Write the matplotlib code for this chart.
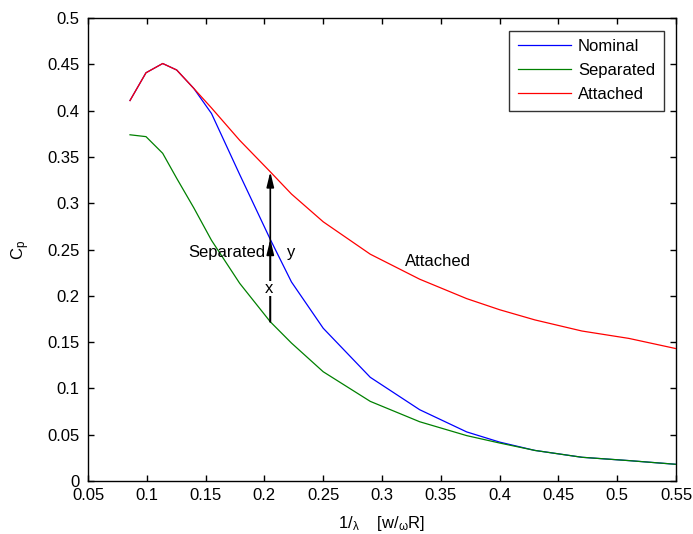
import matplotlib
matplotlib.use("Agg")
import matplotlib.pyplot as plt

plt.rcParams['font.family'] = ['Liberation Sans', 'DejaVu Sans']
plt.rcParams['mathtext.fontset'] = 'custom'
plt.rcParams['mathtext.rm'] = 'Liberation Sans'
plt.rcParams['mathtext.it'] = 'Liberation Sans'

inv_lambda = [0.0857, 0.0993, 0.1135, 0.1254, 0.140, 0.155, 0.179, 0.205, 0.223,
              0.25, 0.29, 0.332, 0.372, 0.40, 0.43, 0.47, 0.51, 0.55]
cp_nominal = [0.411, 0.441, 0.451, 0.444, 0.424, 0.397, 0.331, 0.261, 0.215,
              0.165, 0.112, 0.077, 0.053, 0.042, 0.033, 0.0256, 0.022, 0.018]
cp_separated = [0.374, 0.372, 0.354, 0.327, 0.295, 0.260, 0.2135, 0.172, 0.149,
                0.118, 0.086, 0.064, 0.049, 0.041, 0.033, 0.0256, 0.022, 0.018]
cp_attached = [0.411, 0.441, 0.451, 0.444, 0.424, 0.403, 0.368, 0.334, 0.310,
               0.280, 0.245, 0.218, 0.197, 0.185, 0.174, 0.162, 0.154, 0.143]
series_names = ['Nominal', 'Separated', 'Attached']
x_ticks = [0.05, 0.1, 0.15, 0.2, 0.25, 0.3, 0.35, 0.4, 0.45, 0.5, 0.55]
y_ticks = [0, 0.05, 0.1, 0.15, 0.2, 0.25, 0.3, 0.35, 0.4, 0.45, 0.5]

FS = 12

fig = plt.figure(figsize=(6.93, 5.34), dpi=100)
ax = fig.add_axes([0.127, 0.0993, 0.8485, 0.8667])

ax.plot(inv_lambda, cp_nominal, color='#0000ff', lw=0.9, label=series_names[0], zorder=3)
ax.plot(inv_lambda, cp_separated, color='#008000', lw=0.9, label=series_names[1], zorder=3)
ax.plot(inv_lambda, cp_attached, color='#ff0000', lw=0.9, label=series_names[2], zorder=3)

x_arrow = inv_lambda[7]
ax.annotate('', xy=(x_arrow, cp_attached[7]), xytext=(x_arrow, cp_separated[7]),
            arrowprops=dict(arrowstyle='-|>,head_length=0.9,head_width=0.22',
                            color='black', lw=1.2, shrinkA=0, shrinkB=0), zorder=4)
ax.annotate('', xy=(x_arrow, cp_nominal[7]), xytext=(x_arrow, cp_separated[7]),
            arrowprops=dict(arrowstyle='-|>,head_length=0.9,head_width=0.22',
                            color='black', lw=1.2, shrinkA=0, shrinkB=0), zorder=4)

ax.text(0.2005, 0.2465, 'Separated', fontsize=FS, ha='right', va='center', zorder=5)
ax.text(0.2226, 0.2465, 'y', fontsize=FS, ha='center', va='center', zorder=5,
        bbox=dict(facecolor='white', edgecolor='none', pad=0.5))
ax.text(0.2035, 0.208, 'x', fontsize=FS, ha='center', va='center', zorder=5,
        bbox=dict(facecolor='white', edgecolor='none', pad=0.3))
ax.text(0.3476, 0.2375, 'Attached', fontsize=FS, ha='center', va='center', zorder=5)

ax.set_xlim(0.05, 0.55)
ax.set_ylim(0, 0.5)
ax.set_xticks(x_ticks)
ax.set_xticklabels([f'{v:g}' for v in x_ticks])
ax.set_yticks(y_ticks)
ax.set_yticklabels([f'{v:g}' for v in y_ticks])
ax.tick_params(direction='in', top=True, right=True, length=4, width=1,
               labelsize=FS)
ax.tick_params(axis='x', pad=5)
ax.tick_params(axis='y', pad=6)
for s in ax.spines.values():
    s.set_linewidth(1.0)

ax.set_xlabel('1/$_{\\mathrm{λ}}$    [w/$_{\\mathrm{ω}}$R]', fontsize=FS, labelpad=8)
ax.set_ylabel('C$_{\\mathrm{p}}$', fontsize=FS, labelpad=11)

leg = ax.legend(loc='upper right', fontsize=FS, frameon=True, fancybox=False,
                edgecolor='black', handlelength=3.2, borderpad=0.5,
                labelspacing=0.55, handletextpad=0.42, borderaxespad=0.75)
leg.get_frame().set_linewidth(1.0)

fig.savefig('out.png', dpi=100)
